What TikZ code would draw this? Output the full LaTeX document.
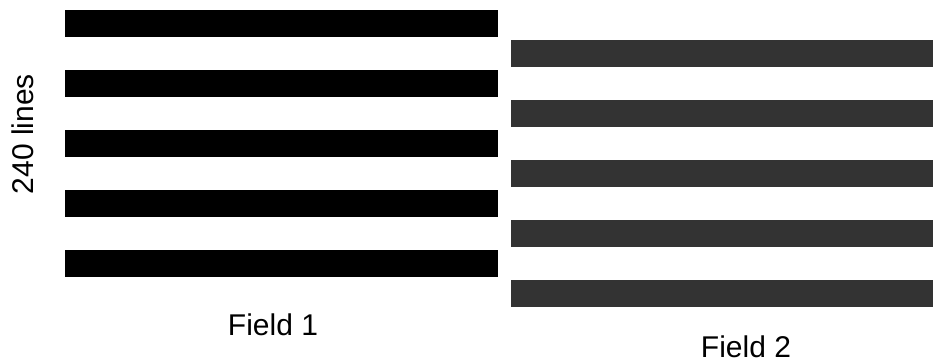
\documentclass[tikz,border=0pt]{standalone}
\usepackage{fontspec}
\setmainfont{Liberation Sans}
\definecolor{fieldgray}{HTML}{333333}
\tikzset{
  fieldlabel/.style={font=\fontsize{30}{36}\selectfont, inner sep=0pt, anchor=base},
}
\begin{document}
\begin{tikzpicture}[x=1pt, y=-1pt]
    % Marco
    \useasboundingbox (0,0) rectangle (933,362);

    % Campo 1 (lineas impares)
    \foreach \y in {10,70,130,190,250}
        \fill[black] (65,\y) rectangle (498,\y+26.7);

    % Campo 2 (lineas pares)
    \foreach \y in {40,100,160,220,280}
        \fill[fieldgray] (510.5,\y) rectangle (933,\y+26.7);

    % Etiquetas
    \node[fieldlabel, rotate=90] (lines) at (33,134) {240 lines};
    \node[fieldlabel] (field1) at (273,335) {Field 1};
    \node[fieldlabel] (field2) at (746,357) {Field 2};
\end{tikzpicture}
\end{document}
